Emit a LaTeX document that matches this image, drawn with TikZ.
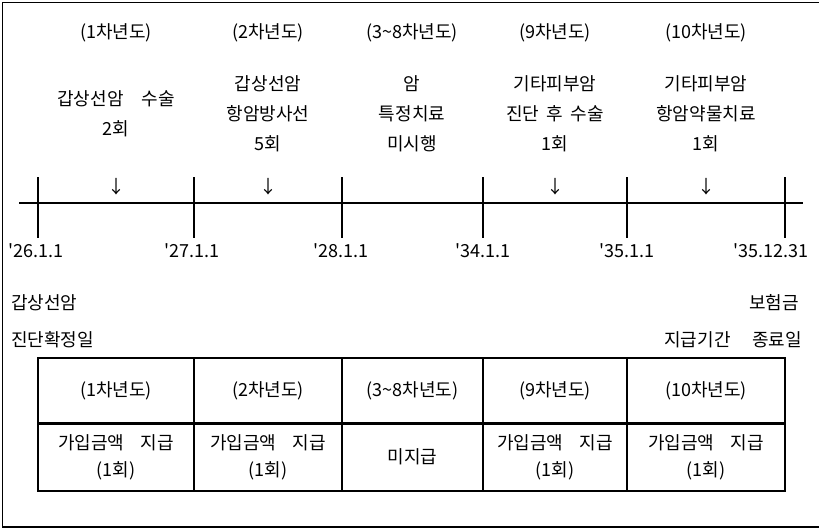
\documentclass[tikz,border=0pt]{standalone}
\usepackage{fontspec}
\setmainfont{Noto Sans CJK KR}
\tikzset{
  cell/.style={draw,line width=1.6pt,inner sep=0pt,align=center},
  desc/.style={align=center,font=\fontsize{18}{30}\selectfont}
}
\begin{document}
\begin{tikzpicture}[x=1pt,y=-1pt,line width=1.6pt,font=\fontsize{18}{22}\selectfont]
  \useasboundingbox (0,0) rectangle (819,531);
  % frame, open on the right
  \draw (819,2.5) -- (2.5,2.5) -- (2.5,527) -- (819,527);
  % time axis
  \coordinate (axl) at (19,203);
  \coordinate (axr) at (803,203);
  \draw (axl) -- (axr);
  \foreach \x/\lx/\d [count=\i from 0] in {38/36/26.1.1,194/192/27.1.1,342/341/28.1.1,483/483/34.1.1,627/627/35.1.1,785/771/35.12.31} {
    \draw (\x,177) coordinate (tk\i) -- (\x,238) coordinate (tb\i);
    \node (d\i) at (\lx,251) {\textquotesingle\d};
  }
  % years, treatments and arrows above the axis
  \foreach \c/\y/\t [count=\i] in {
      116/1/{갑상선암\hspace{1em}수술\\2회},
      268/2/{갑상선암\\항암방사선\\5회},
      412/3\textasciitilde 8/{암\\특정치료\\미시행},
      555/9/{기타피부암\\진단\hspace{0.4em}후\hspace{0.4em}수술\\1회},
      706/10/{기타피부암\\항암약물치료\\1회}} {
    \node (yr\i) at (\c,33) {({\y}차년도)};
    \ifnum\i=3\else\node (ar\i) at (\c,187) {↓};\fi
    \node[desc] (tx\i) at (\c,114) {\t};
  }
  % end points
  \node[anchor=west] (st1) at (7,303) {갑상선암};
  \node[anchor=west] (st2) at (7,340) {진단확정일};
  \node[anchor=east] (en1) at (803,303) {보험금};
  \node[anchor=east] (en2) at (806,340) {지급기간\hspace{1.2em}종료일};
  % payment table
  \foreach \a/\b/\y/\p [count=\i] in {
      38/194/1/{가입금액\hspace{0.9em}지급\\(1회)},
      194/342/2/{가입금액\hspace{0.9em}지급\\(1회)},
      342/483/3\textasciitilde 8/{미지급},
      483/627/9/{가입금액\hspace{0.9em}지급\\(1회)},
      627/785/10/{가입금액\hspace{0.9em}지급\\(1회)}} {
    \node[cell,minimum width={(\b-\a)*1pt},minimum height=66pt] (hd\i) at ({(\a+\b)/2},391) {({\y}차년도)};
    \node[cell,minimum width={(\b-\a)*1pt},minimum height=68pt,font=\fontsize{18}{27}\selectfont] (py\i) at ({(\a+\b)/2},457) {\p};
  }
\end{tikzpicture}
\end{document}
